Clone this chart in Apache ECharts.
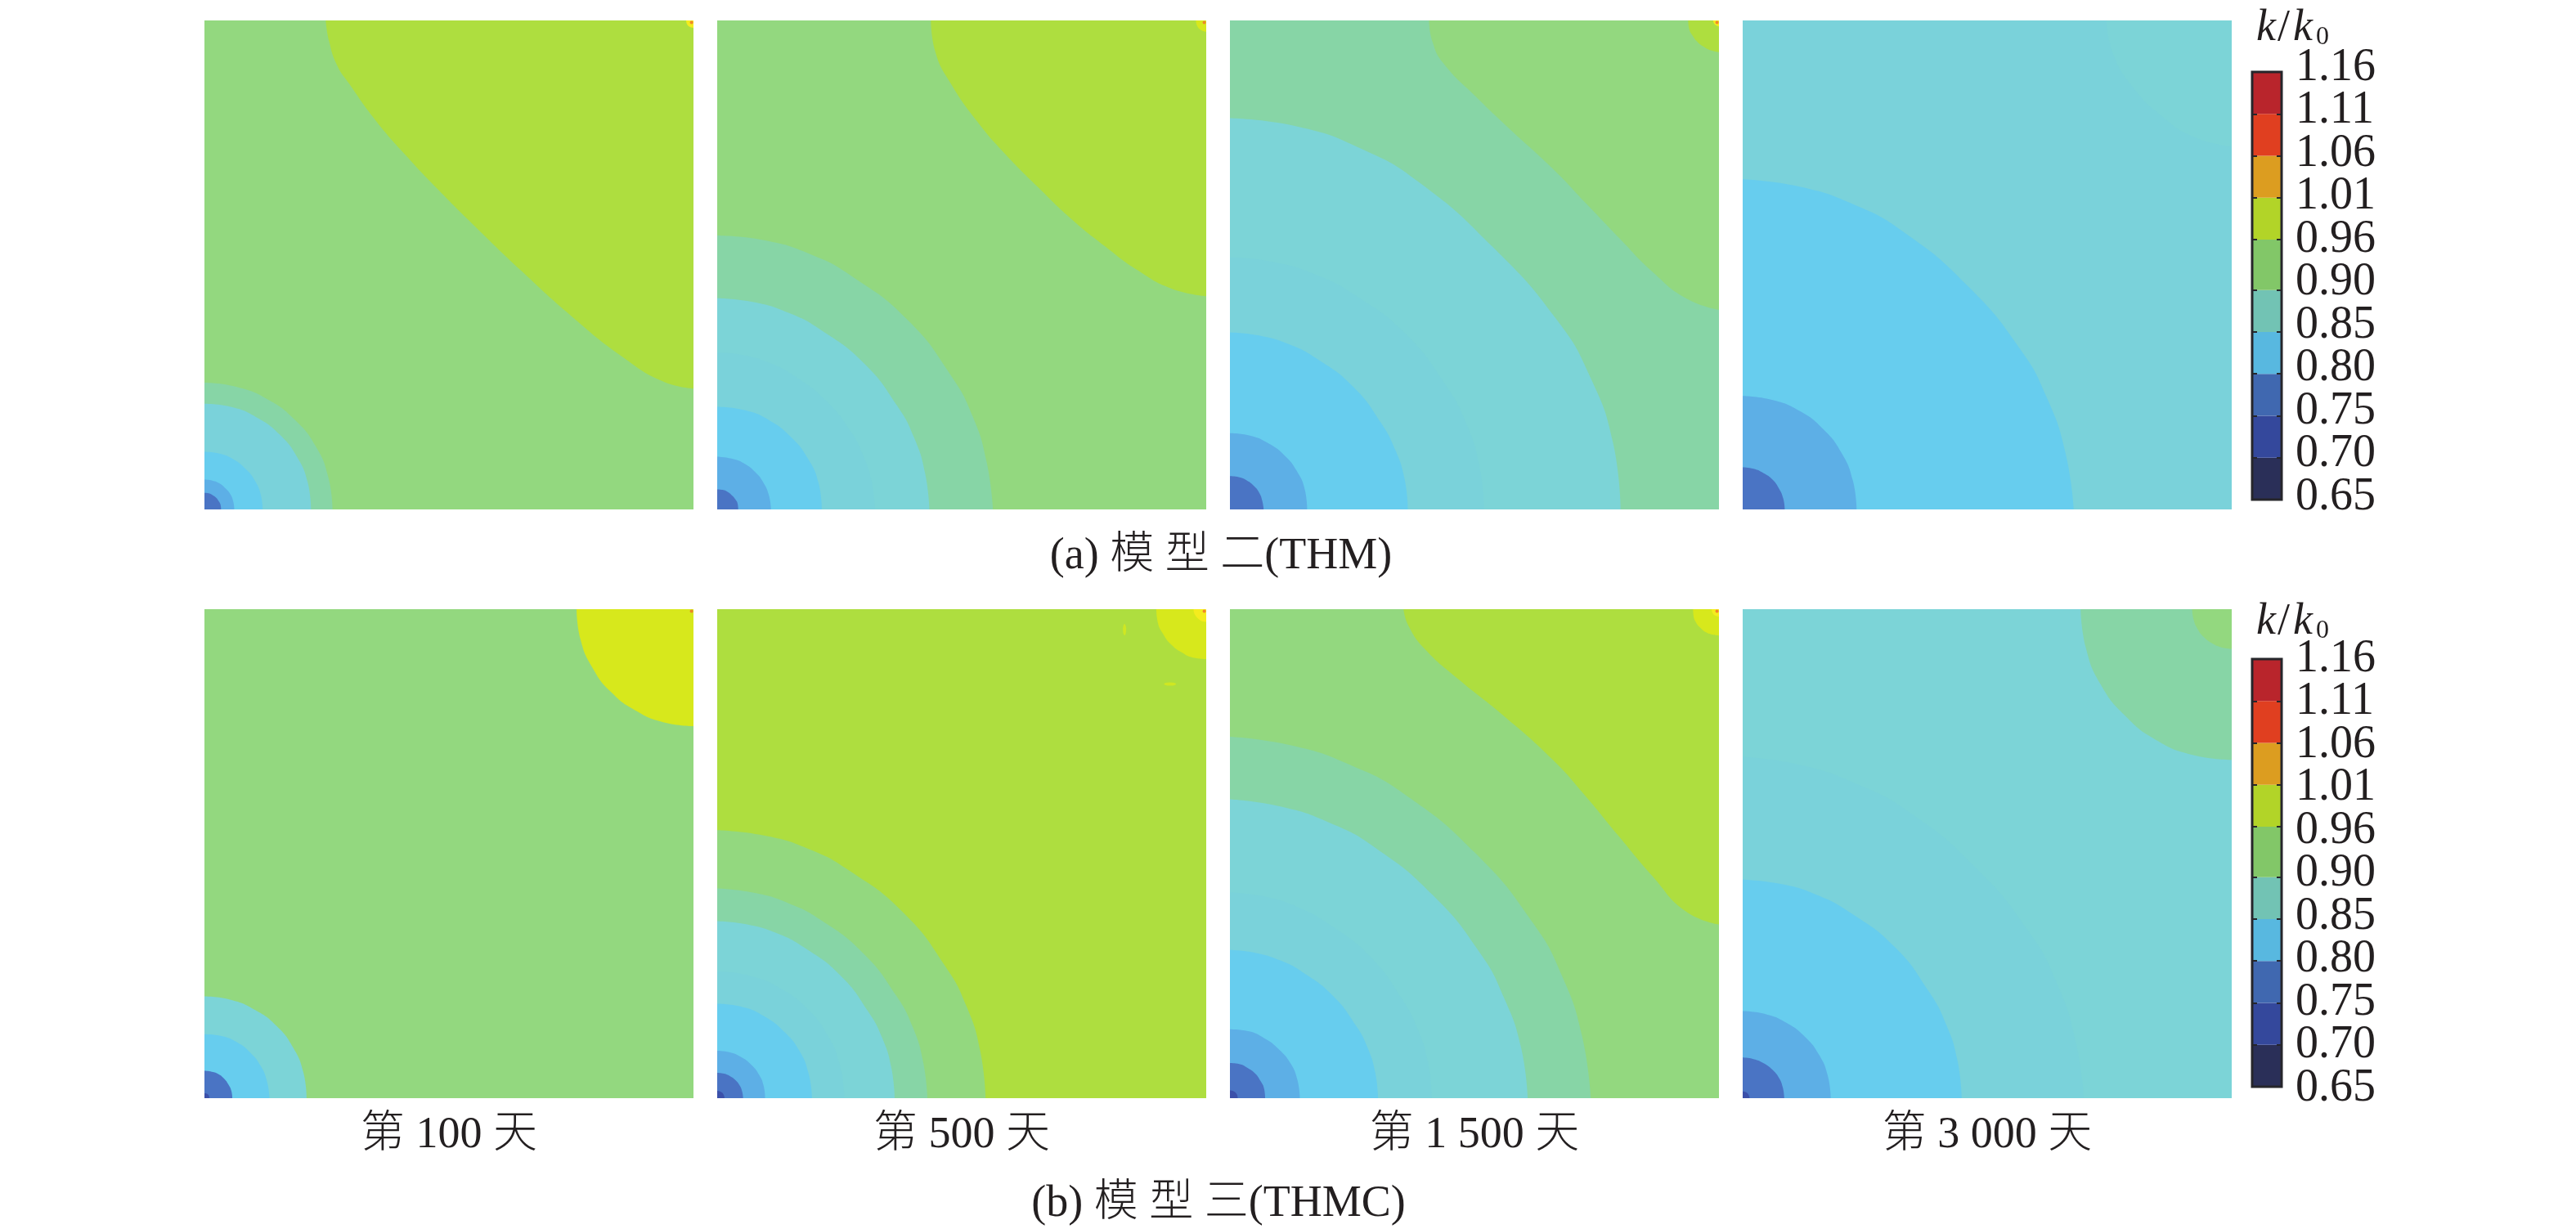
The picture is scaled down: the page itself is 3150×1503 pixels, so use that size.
<!DOCTYPE html>
<html>
<head>
<meta charset="utf-8">
<style>html,body{margin:0;padding:0;background:#fff}#c{width:3150px;height:1503px}</style>
<script src="https://cdn.jsdelivr.net/npm/echarts@6/dist/echarts.min.js"></script>
</head>
<body>
<div id="c"></div>
<script>
// Contour boundaries: [x, y] in percent of the panel side.
const a1Low = [
  [[0,25.9],[6.8,25],[13.1,22.4],[18.5,18.3],[22.7,13],[25.3,6.7],[26.2,0]],
  [[0,21.6],[5.7,20.9],[10.9,18.7],[15.4,15.3],[18.9,10.8],[21.1,5.6],[21.8,0]],
  [[0,11.8],[3.1,11.4],[6,10.2],[8.4,8.3],[10.3,5.9],[11.5,3.1],[11.9,0]],
  [[0,6.1],[1.6,5.9],[3.1,5.3],[4.3,4.3],[5.3,3.1],[5.9,1.6],[6.1,0]],
  [[0,3.4],[0.9,3.3],[1.7,2.9],[2.4,2.4],[2.9,1.7],[3.3,0.9],[3.4,0]]
];
const a1LowLevels = ['teal','cyanA','sky','blue','core'];
const a1High = [
  [[24.8,100],[25.5,95.7],[27.1,90.9],[29.5,87.2],[34.9,79.7],[41.1,72.5],[47.9,65.3],[54.7,58.5],[65,48.6],[75.2,39.4],[85.5,31.2],[93.7,26.2],[100,24.7]],
  [[98.5,100],[98.7,99.2],[99.2,98.7],[100,98.5]]
];
const a1HighLevels = ['lime','bright'];

const a2Low = [
  [[0,56],[9.8,55],[19,52.2],[27.5,47.7],[38.9,38.8],[47.8,27.4],[52.3,18.9],[55.1,9.7],[56.4,0]],
  [[0,43.2],[7.5,42.4],[14.6,40.2],[21.2,36.7],[30,29.9],[36.8,21.2],[40.3,14.6],[42.5,7.5],[43.4,0]],
  [[0,32.1],[5.6,31.5],[10.9,29.9],[15.8,27.3],[22.3,22.2],[27.4,15.8],[29.9,10.9],[31.6,5.6],[32.3,0]],
  [[0,21],[5.6,20.3],[10.7,18.2],[15.1,14.8],[18.5,10.5],[20.7,5.5],[21.4,0]],
  [[0,10.8],[2.9,10.4],[5.5,9.4],[7.8,7.6],[9.5,5.4],[10.6,2.8],[11,0]],
  [[0,4.1],[1.1,4],[2.1,3.6],[3,2.9],[3.7,2.1],[4.2,1.1],[4.3,0]]
];
const a2LowLevels = ['teal','cyanB','cyanA','sky','blue','core'];
const a2High = [
  [[43.7,100],[44.6,93.6],[47.7,87.2],[53.2,79.3],[58.6,73],[65.5,66],[72.3,59.5],[79.2,53.9],[86,48.9],[92.8,45.2],[100,43.6]],
  [[97.9,100],[98.1,99],[99,98],[100,97.7]]
];
const a2HighLevels = ['lime','yellow'];

const a3Low = [
  [[0,80],[13.8,78.3],[26.8,73.8],[38.7,66.9],[53.7,53.7],[66.9,38.7],[73.8,26.8],[78.3,13.8],[79.9,0]],
  [[0,51.6],[9,50.6],[17.6,48],[25.5,43.9],[36,35.8],[44.2,25.3],[48.4,17.4],[51,9],[52,0]],
  [[0,36.2],[6.3,35.5],[12.3,33.7],[17.8,30.8],[25.2,25.1],[30.9,17.7],[33.8,12.2],[35.7,6.3],[36.4,0]],
  [[0,15.6],[4.1,15.1],[7.9,13.5],[11.2,11],[13.7,7.8],[15.3,4.1],[15.8,0]],
  [[0,6.8],[1.8,6.6],[3.5,5.9],[4.9,4.8],[6,3.4],[6.6,1.8],[6.9,0]]
];
const a3LowLevels = ['cyanB','cyanA','sky','blue','core'];
const a3High = [
  [[40.7,100],[41.4,95.7],[43.6,91.3],[50.3,84.4],[57.1,77.9],[66,69.7],[72.9,62.5],[79.7,55.4],[86.5,48.5],[93.4,43.1],[100,40.8]],
  [[93.7,100],[93.9,98.3],[94.6,96.9],[95.6,95.6],[96.9,94.6],[98.3,93.9],[100,93.5]],
  [[98.8,100],[99,99.4],[99.4,99],[100,98.8]]
];
const a3HighLevels = ['green','lime','bright'];

const a4Low = [
  [[0,67.5],[11.6,66],[22.6,62.4],[32.8,56.8],[45.9,45.8],[56.8,32.7],[62.3,22.6],[66,11.6],[67.7,0]],
  [[0,23.2],[6,22.4],[11.7,20.1],[16.5,16.4],[20.2,11.6],[22.5,6],[23.3,0]],
  [[0,8.6],[2.2,8.3],[4.3,7.4],[6.1,6.1],[7.4,4.3],[8.3,2.2],[8.6,0]]
];
const a4LowLevels = ['sky','blue','core'];
const a4High = [
  [[74.4,100],[75.8,93],[79.9,86.2],[85.4,80.7],[92.2,76.2],[100,74.2]]
];
const a4HighLevels = ['cyanB'];

const b1Low = [
  [[0,20.8],[5.4,20.1],[10.4,18],[14.8,14.7],[18.1,10.4],[20.2,5.4],[20.9,0]],
  [[0,13.1],[3.5,12.7],[6.7,11.4],[9.4,9.3],[11.5,6.6],[12.8,3.4],[13.3,0]],
  [[0,5.6],[1.5,5.4],[2.9,4.9],[4,4],[4.9,2.8],[5.5,1.5],[5.7,0]],
  [[0,1],[0.5,0.9],[0.9,0.5],[1,0]]
];
const b1LowLevels = ['cyanB','sky','core','deep'];
const b1High = [
  [[76.1,100],[76.9,93.8],[79.3,88.1],[83.1,83.1],[88.1,79.3],[93.8,76.9],[100,76.1]]
];
const b1HighLevels = ['yellow'];

const b2Low = [
  [[0,54.8],[9.6,53.7],[18.6,51],[26.9,46.6],[38,38],[46.7,26.9],[51.1,18.5],[53.8,9.6],[54.9,0]],
  [[0,42.9],[7.5,42],[14.5,39.9],[21.1,36.5],[29.8,29.7],[36.6,21],[40,14.5],[42.1,7.5],[43,0]],
  [[0,36.2],[6.3,35.5],[12.3,33.7],[17.8,30.8],[25.2,25.1],[30.9,17.7],[33.8,12.2],[35.6,6.3],[36.3,0]],
  [[0,25.9],[6.8,25],[13,22.4],[18.4,18.3],[22.5,13],[25.1,6.7],[26,0]],
  [[0,19.3],[5,18.7],[9.7,16.7],[13.7,13.6],[16.8,9.7],[18.7,5],[19.4,0]],
  [[0,9.7],[2.5,9.4],[4.9,8.4],[6.9,6.9],[8.5,4.9],[9.5,2.5],[9.8,0]],
  [[0,5.2],[1.4,5],[2.6,4.5],[3.7,3.7],[4.6,2.6],[5.1,1.4],[5.3,0]],
  [[0,1.5],[0.75,1.3],[1.3,0.75],[1.5,0]]
];
const b2LowLevels = ['green','teal','cyanB','cyanA','sky','blue','core','deep'];
const b2High = [
  [[89.8,100],[90.1,97.3],[91.2,94.9],[92.8,92.8],[94.9,91.2],[97.3,90.1],[100,89.8]],
  [[97.4,100],[97.5,99.3],[97.8,98.7],[98.2,98.2],[98.7,97.8],[99.3,97.5],[100,97.4]]
];
const b2HighLevels = ['yellow','bright'];

const b3Low = [
  [[0,73.9],[12.7,72.1],[24.7,68.1],[35.8,62.1],[50.1,50.2],[62,35.8],[68,24.8],[72,12.7],[73.8,0]],
  [[0,61.1],[10.5,59.6],[20.4,56.3],[29.6,51.3],[41.5,41.5],[51.2,29.6],[56.1,20.4],[59.5,10.5],[60.9,0]],
  [[0,42.1],[7.2,41.2],[14,39],[20.2,35.6],[28.7,28.9],[35.1,20.4],[38.4,14.1],[40.5,7.3],[41.3,0]],
  [[0,30.3],[5.3,29.7],[10.2,28.2],[14.8,25.8],[21,21],[25.8,14.8],[28.2,10.2],[29.7,5.3],[30.3,0]],
  [[0,14.1],[3.7,13.7],[7.1,12.2],[10,10],[12.4,7.1],[13.8,3.7],[14.3,0]],
  [[0,7.2],[1.9,7],[3.6,6.2],[5.1,5.1],[6.2,3.6],[7,1.9],[7.2,0]],
  [[0,1.6],[0.8,1.4],[1.4,0.8],[1.6,0]]
];
const b3LowLevels = ['teal','cyanB','cyanA','sky','blue','core','deep'];
const b3High = [
  [[35.5,100],[36.5,96.6],[39.9,91.8],[46.8,85.6],[55.6,78.5],[65.9,69.3],[72.7,61.8],[79.5,53.6],[86.4,45.4],[93.2,38.2],[100,35.5]],
  [[94.7,100],[94.8,98.6],[95.3,97.3],[96.2,96.2],[97.3,95.3],[98.6,94.8],[100,94.6]],
  [[98.5,100],[98.7,99.2],[99.2,98.7],[100,98.5]]
];
const b3HighLevels = ['lime','yellow','bright'];

const b4Low = [
  [[0,69.8],[12,68.1],[23.4,64.2],[33.9,58.6],[47.4,47.4],[58.6,33.9],[64.3,23.4],[68,12],[69.8,0]],
  [[0,44.7],[7.8,43.8],[15.1,41.6],[21.9,38],[31,31],[38,21.9],[41.6,15.1],[43.9,7.8],[44.8,0]],
  [[0,17.8],[4.7,17.2],[9,15.4],[12.7,12.6],[15.6,8.9],[17.4,4.6],[18,0]],
  [[0,8.3],[2.2,8],[4.2,7.2],[6,5.9],[7.4,4.2],[8.2,2.2],[8.5,0]],
  [[0,1.4],[0.7,1.2],[1.2,0.7],[1.4,0]]
];
const b4LowLevels = ['cyanA','sky','blue','core','deep'];
const b4High = [
  [[69.1,100],[70.2,92],[73.2,84.6],[78.2,78.2],[84.6,73.2],[92,70.2],[100,69.2]],
  [[91.9,100],[92.2,97.9],[93,96],[94.3,94.3],[96,93],[97.9,92.2],[100,91.9]]
];
const b4HighLevels = ['teal','green'];

// Whole-panel background level of each panel, in order a1..a4, b1..b4
const panelBackground = ['green','green','teal','cyanA','green','lime','green','cyanB'];

const cornerPoints = [[99.6,99.6]];
const speckTall = [[83.3,95.8]];
const speckWide = [[92.6,84.7]];

const dayLabels = ['第 100 天','第 500 天','第 1 500 天','第 3 000 天'];
const rowTitles = ['(a) 模 型 二(THM)','(b) 模 型 三(THMC)'];
const scaleLabels = ['1.16','1.11','1.06','1.01','0.96','0.90','0.85','0.80','0.75','0.70','0.65'];
const scaleEdges = [0.65,0.70,0.75,0.80,0.85,0.90,0.96,1.01,1.06,1.11,1.16];

// Styling
const levelColors = {deep:'#3b50aa',core:'#4a74c4',blue:'#5dafe6',sky:'#67cdee',cyanA:'#7ad2da',cyanB:'#7cd4d7',
  teal:'#87d5a6',green:'#93d87f',lime:'#aede3f',yellow:'#d7e81c',bright:'#f4ec1e'};
const scaleColors = ['#2a2f58','#34489c','#4068b0','#58b8e0','#72c3b4','#82c768','#b2d428','#dc9d20','#e03f20','#b9252c'];
const panelLefts = [250,877,1504,2131];
const rowTops = [25,745];
const panelSide = 598;
const textColor = '#231f20';
const serif = '"Liberation Serif","Noto Sans CJK SC"';

const panels = [
  [a1Low,a1LowLevels,a1High,a1HighLevels],[a2Low,a2LowLevels,a2High,a2HighLevels],
  [a3Low,a3LowLevels,a3High,a3HighLevels],[a4Low,a4LowLevels,a4High,a4HighLevels],
  [b1Low,b1LowLevels,b1High,b1HighLevels],[b2Low,b2LowLevels,b2High,b2HighLevels],
  [b3Low,b3LowLevels,b3High,b3HighLevels],[b4Low,b4LowLevels,b4High,b4HighLevels]
];

const grid=[], xAxis=[], yAxis=[], series=[];
function bandSeries(axis, pts, level, origin){
  series.push({type:'line',xAxisIndex:axis,yAxisIndex:axis,data:pts,smooth:0.5,showSymbol:false,symbol:'none',silent:true,
    animation:false,lineStyle:{width:0},itemStyle:{color:levelColors[level]},
    areaStyle:{color:levelColors[level],opacity:1,origin:origin}});
}
panels.forEach((p,i)=>{
  const col=i%4,row=i<4?0:1;
  grid.push({left:panelLefts[col],top:rowTops[row],width:panelSide,height:panelSide,containLabel:false});
  const xa={type:'value',gridIndex:i,min:0,max:100,show:true,axisLine:{show:false},axisTick:{show:false},axisLabel:{show:false},splitLine:{show:false}};
  if(row===1){Object.assign(xa,{name:dayLabels[col],nameLocation:'middle',nameGap:19,
    nameTextStyle:{fontFamily:serif,fontSize:54,fontWeight:300,color:textColor}});}
  xAxis.push(xa);
  yAxis.push({type:'value',gridIndex:i,min:0,max:100,show:false});
  bandSeries(i,[[0,100],[100,100]],panelBackground[i],'start');
  p[0].forEach((c,k)=>bandSeries(i,c,p[1][k],'start'));
  p[2].forEach((c,k)=>bandSeries(i,c,p[3][k],'end'));
  if(i!==3&&i!==7){
    series.push({type:'scatter',xAxisIndex:i,yAxisIndex:i,data:cornerPoints,symbolSize:4,silent:true,animation:false,
      itemStyle:{color:'#f0702c'},z:5});
  }
  if(i===5){
    series.push({type:'scatter',xAxisIndex:i,yAxisIndex:i,data:speckTall,symbolSize:[4,14],silent:true,animation:false,itemStyle:{color:levelColors.yellow},z:5});
    series.push({type:'scatter',xAxisIndex:i,yAxisIndex:i,data:speckWide,symbolSize:[15,4],silent:true,animation:false,itemStyle:{color:levelColors.yellow},z:5});
  }
});

// Colour scales: bar with ticks, then the evenly spaced label column
const scaleBarTops = [88,806];
const scaleLabelTops = [83,806];
const scaleBands = scaleColors.map((c,i)=>[scaleEdges[i],scaleEdges[i+1],i]);
scaleBarTops.forEach((top,r)=>{
  const gi=grid.length;
  grid.push({left:2754,top:top,width:36,height:523,show:true,borderColor:'#26262b',borderWidth:3,backgroundColor:'transparent',z:3});
  xAxis.push({type:'value',gridIndex:gi,min:0,max:1,show:false});
  const ax=yAxis.length;
  [['left'],['right']].forEach(([pos])=>{
    yAxis.push({type:'value',gridIndex:gi,min:0.65,max:1.16,position:pos,axisLine:{show:false},
      axisLabel:{show:false},splitLine:{show:false},
      axisTick:{show:true,inside:true,length:6,customValues:scaleEdges,lineStyle:{color:'#26262b',width:2}},z:6});
  });
  series.push({type:'custom',xAxisIndex:gi,yAxisIndex:ax,data:scaleBands,silent:true,animation:false,clip:true,
    encode:{y:[0,1]},
    renderItem:(params,api)=>{
      const a=api.coord([0,api.value(0)]),b=api.coord([1,api.value(1)]);
      return {type:'rect',shape:{x:a[0],y:b[1],width:b[0]-a[0],height:a[1]-b[1]},
        style:{fill:scaleColors[api.value(2)]}};
    }});
  const gl=grid.length;
  grid.push({left:2807,top:scaleLabelTops[r],width:110,height:525});
  xAxis.push({type:'value',gridIndex:gl,min:0,max:1,show:false});
  yAxis.push({type:'category',gridIndex:gl,data:scaleLabels,inverse:true,boundaryGap:false,position:'left',
    axisLine:{show:false},axisTick:{show:false},splitLine:{show:false},
    axisLabel:{show:true,inside:true,interval:0,margin:0,align:'left',verticalAlign:'middle',
      fontFamily:'"Liberation Serif"',fontSize:56,color:textColor}});
});

const title=[
  {text:rowTitles[0],left:1488,top:649,textAlign:'center',textStyle:{fontFamily:serif,fontSize:54,fontWeight:300,color:textColor}},
  {text:rowTitles[1],left:1485,top:1441,textAlign:'center',textStyle:{fontFamily:serif,fontSize:54,fontWeight:300,color:textColor}}
];
[3,729].forEach(t=>title.push({text:'{i|k}{n|/}{i|k}{s|0}',left:2754,top:t,
  textStyle:{fontWeight:'normal',rich:{
    i:{fontFamily:'"Liberation Serif"',fontStyle:'italic',fontWeight:'normal',fontSize:54,color:textColor,padding:[0,2,0,0]},
    n:{fontFamily:'"Liberation Serif"',fontWeight:'normal',fontSize:54,color:textColor,padding:[0,4,0,0]},
    s:{fontFamily:'"Liberation Serif"',fontWeight:'normal',fontSize:32,color:textColor,verticalAlign:'bottom',padding:[18,0,0,2]}
  }}}));

const chart=echarts.init(document.getElementById('c'),null,{renderer:'canvas',width:3150,height:1503});
chart.setOption({animation:false,backgroundColor:'#ffffff',title,grid,xAxis,yAxis,series});
</script>
</body>
</html>
